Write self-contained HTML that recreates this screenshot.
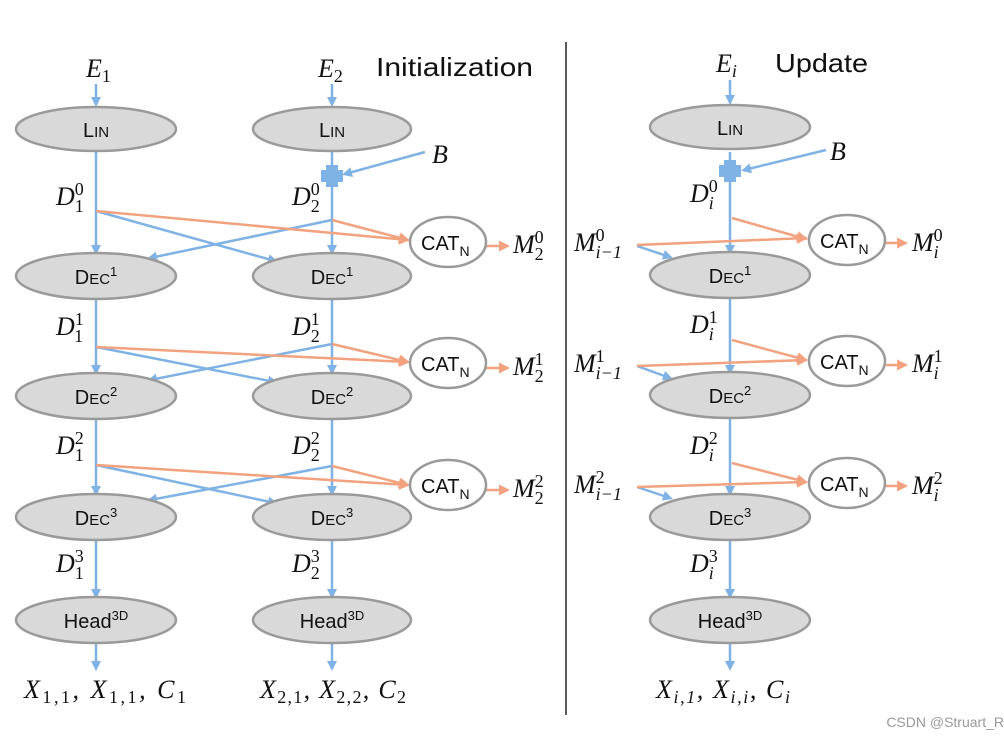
<!DOCTYPE html><html><head><style>body{margin:0;background:#fff}svg{display:block}
.m{font-family:"Liberation Serif",serif;font-style:italic;font-size:26px;fill:#111}
.s{font-family:"Liberation Serif",serif;font-style:normal;font-size:18px}
.si{font-family:"Liberation Serif",serif;font-style:italic;font-size:18px}
.t{font-family:"Liberation Sans",sans-serif;font-size:20px;fill:#111}
</style></head><body>
<svg width="1004" height="740" viewBox="0 0 1004 740" xmlns="http://www.w3.org/2000/svg">
<defs>
<marker id="b" markerWidth="10" markerHeight="10" refX="7" refY="5" orient="auto" markerUnits="userSpaceOnUse"><path d="M0,0L10,5L0,10z" fill="#7fb2e5"/></marker>
<marker id="o" markerWidth="11" markerHeight="11" refX="9" refY="5.5" orient="auto" markerUnits="userSpaceOnUse"><path d="M0,0L11,5.5L0,11z" fill="#f2a27f"/></marker>
</defs>
<g stroke="#7fb2e5" stroke-width="2.5" fill="none" marker-end="url(#b)">
<line x1="96" y1="84" x2="96" y2="104"/>
<line x1="96" y1="152" x2="96" y2="252"/>
<line x1="96" y1="299" x2="96" y2="372"/>
<line x1="96" y1="419" x2="96" y2="493"/>
<line x1="96" y1="540" x2="96" y2="596"/>
<line x1="96" y1="643" x2="96" y2="668"/>
<line x1="332" y1="84" x2="332" y2="104"/>
<line x1="332" y1="152" x2="332" y2="252"/>
<line x1="332" y1="299" x2="332" y2="372"/>
<line x1="332" y1="419" x2="332" y2="493"/>
<line x1="332" y1="540" x2="332" y2="596"/>
<line x1="332" y1="643" x2="332" y2="668"/>
<line x1="425" y1="152" x2="345" y2="174"/>
<line x1="96" y1="211" x2="275" y2="261"/>
<line x1="332" y1="220" x2="150" y2="258"/>
<line x1="96" y1="347" x2="275" y2="382"/>
<line x1="332" y1="344" x2="150" y2="380"/>
<line x1="96" y1="465" x2="275" y2="503"/>
<line x1="332" y1="466" x2="150" y2="500"/>
<line x1="730" y1="80" x2="730" y2="102"/>
<line x1="730" y1="152" x2="730" y2="252"/>
<line x1="730" y1="299" x2="730" y2="372"/>
<line x1="730" y1="419" x2="730" y2="493"/>
<line x1="730" y1="540" x2="730" y2="596"/>
<line x1="730" y1="643" x2="730" y2="668"/>
<line x1="826" y1="150" x2="744" y2="170"/>
<line x1="637" y1="246" x2="670" y2="257"/>
<line x1="637" y1="366" x2="670" y2="378"/>
<line x1="637" y1="487" x2="670" y2="498"/>
</g>
<g fill="#7fb2e5"><rect x="326" y="165" width="12" height="22"/><rect x="321" y="170" width="22" height="12"/>
<rect x="724" y="160" width="12" height="22"/><rect x="719" y="165" width="22" height="12"/></g>
<g stroke="#f2a27f" stroke-width="2.5" fill="none" marker-end="url(#o)">
<line x1="96" y1="211" x2="408" y2="240"/>
<line x1="332" y1="220" x2="408" y2="240"/>
<line x1="96" y1="347" x2="408" y2="362"/>
<line x1="332" y1="344" x2="408" y2="362"/>
<line x1="96" y1="465" x2="408" y2="485"/>
<line x1="332" y1="466" x2="408" y2="485"/>
<line x1="486" y1="246" x2="508" y2="246"/>
<line x1="486" y1="368" x2="508" y2="368"/>
<line x1="486" y1="490" x2="508" y2="490"/>
<line x1="732" y1="218" x2="806" y2="239"/>
<line x1="637" y1="245" x2="806" y2="238"/>
<line x1="732" y1="340" x2="806" y2="360"/>
<line x1="637" y1="366" x2="806" y2="360"/>
<line x1="732" y1="463" x2="806" y2="482"/>
<line x1="637" y1="487" x2="806" y2="482"/>
<line x1="886" y1="243" x2="906" y2="243"/>
<line x1="886" y1="365" x2="906" y2="365"/>
<line x1="886" y1="486" x2="906" y2="486"/>
</g>
<g fill="#d9d9d9" stroke="#9a9a9a" stroke-width="2.5">
<ellipse cx="96" cy="129" rx="80" ry="22"/><ellipse cx="332" cy="129" rx="79" ry="22"/><ellipse cx="730" cy="127" rx="80" ry="22"/>
<ellipse cx="96" cy="276" rx="80" ry="23"/><ellipse cx="332" cy="276" rx="79" ry="23"/><ellipse cx="730" cy="275" rx="80" ry="23"/>
<ellipse cx="96" cy="396" rx="80" ry="23"/><ellipse cx="332" cy="396" rx="79" ry="23"/><ellipse cx="730" cy="395" rx="80" ry="23"/>
<ellipse cx="96" cy="517" rx="80" ry="23"/><ellipse cx="332" cy="517" rx="79" ry="23"/><ellipse cx="730" cy="517" rx="80" ry="23"/>
<ellipse cx="96" cy="620" rx="80" ry="23"/><ellipse cx="332" cy="620" rx="79" ry="23"/><ellipse cx="730" cy="620" rx="80" ry="23"/>
</g>
<g fill="#fff" stroke="#9a9a9a" stroke-width="2.5">
<ellipse cx="448" cy="242" rx="38" ry="25"/><ellipse cx="448" cy="363" rx="38" ry="25"/><ellipse cx="448" cy="485" rx="38" ry="25"/>
<ellipse cx="847" cy="240" rx="38" ry="25"/><ellipse cx="847" cy="361" rx="38" ry="25"/><ellipse cx="847" cy="483" rx="38" ry="25"/>
</g>
<g class="t" text-anchor="middle">
<text x="96" y="137">L<tspan font-size="15">IN</tspan></text><text x="332" y="137">L<tspan font-size="15">IN</tspan></text><text x="730" y="135">L<tspan font-size="15">IN</tspan></text>
<text x="96" y="284">D<tspan font-size="15">EC</tspan><tspan font-size="13" dy="-8">1</tspan></text><text x="332" y="284">D<tspan font-size="15">EC</tspan><tspan font-size="13" dy="-8">1</tspan></text><text x="730" y="283">D<tspan font-size="15">EC</tspan><tspan font-size="13" dy="-8">1</tspan></text>
<text x="96" y="404">D<tspan font-size="15">EC</tspan><tspan font-size="13" dy="-8">2</tspan></text><text x="332" y="404">D<tspan font-size="15">EC</tspan><tspan font-size="13" dy="-8">2</tspan></text><text x="730" y="403">D<tspan font-size="15">EC</tspan><tspan font-size="13" dy="-8">2</tspan></text>
<text x="96" y="525">D<tspan font-size="15">EC</tspan><tspan font-size="13" dy="-8">3</tspan></text><text x="332" y="525">D<tspan font-size="15">EC</tspan><tspan font-size="13" dy="-8">3</tspan></text><text x="730" y="525">D<tspan font-size="15">EC</tspan><tspan font-size="13" dy="-8">3</tspan></text>
<text x="96" y="628">Head<tspan font-size="13" dy="-8">3D</tspan></text><text x="332" y="628">Head<tspan font-size="13" dy="-8">3D</tspan></text><text x="730" y="628">Head<tspan font-size="13" dy="-8">3D</tspan></text>
</g>
<g class="t">
<text x="421" y="250">CAT<tspan font-size="14" dy="6">N</tspan></text><text x="421" y="371">CAT<tspan font-size="14" dy="6">N</tspan></text><text x="421" y="493">CAT<tspan font-size="14" dy="6">N</tspan></text>
<text x="820" y="248">CAT<tspan font-size="14" dy="6">N</tspan></text><text x="820" y="369">CAT<tspan font-size="14" dy="6">N</tspan></text><text x="820" y="491">CAT<tspan font-size="14" dy="6">N</tspan></text>
<text x="376" y="76" font-size="26" textLength="157" lengthAdjust="spacingAndGlyphs">Initialization</text>
<text x="775" y="72" font-size="26" textLength="93" lengthAdjust="spacingAndGlyphs">Update</text>
</g>
<g class="m">
<text x="86" y="77">E<tspan class="s" dy="5">1</tspan></text>
<text x="318" y="77">E<tspan class="s" dy="5">2</tspan></text>
<text x="716" y="72">E<tspan class="si" dy="5">i</tspan></text>
<text x="432" y="163">B</text><text x="830" y="160">B</text>
<text x="56" y="205">D<tspan class="s" dy="-10">0</tspan><tspan class="s" dx="-9" dy="17">1</tspan></text>
<text x="292" y="205">D<tspan class="s" dy="-10">0</tspan><tspan class="s" dx="-9" dy="17">2</tspan></text>
<text x="690" y="202">D<tspan class="s" dy="-10">0</tspan><tspan class="si" dx="-9" dy="17">i</tspan></text>
<text x="56" y="335">D<tspan class="s" dy="-10">1</tspan><tspan class="s" dx="-9" dy="17">1</tspan></text>
<text x="292" y="335">D<tspan class="s" dy="-10">1</tspan><tspan class="s" dx="-9" dy="17">2</tspan></text>
<text x="690" y="333">D<tspan class="s" dy="-10">1</tspan><tspan class="si" dx="-9" dy="17">i</tspan></text>
<text x="56" y="454">D<tspan class="s" dy="-10">2</tspan><tspan class="s" dx="-9" dy="17">1</tspan></text>
<text x="292" y="454">D<tspan class="s" dy="-10">2</tspan><tspan class="s" dx="-9" dy="17">2</tspan></text>
<text x="690" y="454">D<tspan class="s" dy="-10">2</tspan><tspan class="si" dx="-9" dy="17">i</tspan></text>
<text x="56" y="572">D<tspan class="s" dy="-10">3</tspan><tspan class="s" dx="-9" dy="17">1</tspan></text>
<text x="292" y="572">D<tspan class="s" dy="-10">3</tspan><tspan class="s" dx="-9" dy="17">2</tspan></text>
<text x="690" y="572">D<tspan class="s" dy="-10">3</tspan><tspan class="si" dx="-9" dy="17">i</tspan></text>
<text x="513" y="253">M<tspan class="s" dy="-10">0</tspan><tspan class="s" dx="-9" dy="17">2</tspan></text>
<text x="513" y="375">M<tspan class="s" dy="-10">1</tspan><tspan class="s" dx="-9" dy="17">2</tspan></text>
<text x="513" y="497">M<tspan class="s" dy="-10">2</tspan><tspan class="s" dx="-9" dy="17">2</tspan></text>
<text x="912" y="251">M<tspan class="s" dy="-10">0</tspan><tspan class="si" dx="-9" dy="17">i</tspan></text>
<text x="912" y="372">M<tspan class="s" dy="-10">1</tspan><tspan class="si" dx="-9" dy="17">i</tspan></text>
<text x="912" y="494">M<tspan class="s" dy="-10">2</tspan><tspan class="si" dx="-9" dy="17">i</tspan></text>
<text x="574" y="251">M<tspan class="s" dy="-10">0</tspan><tspan class="si" dx="-9" dy="17">i−1</tspan></text>
<text x="574" y="372">M<tspan class="s" dy="-10">1</tspan><tspan class="si" dx="-9" dy="17">i−1</tspan></text>
<text x="574" y="493">M<tspan class="s" dy="-10">2</tspan><tspan class="si" dx="-9" dy="17">i−1</tspan></text>
<text x="24" y="698" textLength="162" lengthAdjust="spacing">X<tspan class="s" dy="5">1,1</tspan><tspan dy="-5">, X</tspan><tspan class="s" dy="5">1,1</tspan><tspan dy="-5">, C</tspan><tspan class="s" dy="5">1</tspan></text>
<text x="260" y="698" textLength="146" lengthAdjust="spacing">X<tspan class="s" dy="5">2,1</tspan><tspan dy="-5">, X</tspan><tspan class="s" dy="5">2,2</tspan><tspan dy="-5">, C</tspan><tspan class="s" dy="5">2</tspan></text>
<text x="656" y="698" textLength="134" lengthAdjust="spacing">X<tspan class="si" dy="5">i,1</tspan><tspan dy="-5">, X</tspan><tspan class="si" dy="5">i,i</tspan><tspan dy="-5">, C</tspan><tspan class="si" dy="5">i</tspan></text>
</g>
<line x1="566" y1="42" x2="566" y2="715" stroke="#222" stroke-width="1.5"/>
<text x="1004" y="727" text-anchor="end" font-family="Liberation Sans,sans-serif" font-size="14" fill="#999">CSDN @Struart_R</text>
</svg></body></html>
